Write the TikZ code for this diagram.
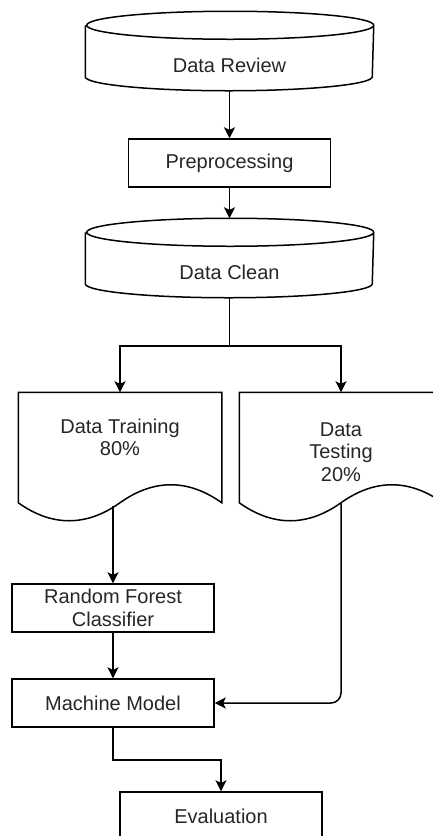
\documentclass[tikz,border=0pt]{standalone}
\usepackage{fontspec}
\setmainfont{Liberation Sans}
\usetikzlibrary{arrows.meta,calc}
\tikzset{flow box/.style={draw, minimum width=101pt, minimum height=24pt, inner sep=0pt, align=center}}
\tikzset{drum body/.style={minimum width=143.5pt, minimum height=25pt, inner sep=0pt, align=center}}
\tikzset{doc body/.style={minimum width=101pt, minimum height=59pt, inner sep=0pt, align=center}}
\newcommand{\drumOutline}[1]{%
  \draw ([yshift=7pt]#1.north west) -- ([yshift=7pt]#1.south west)
    arc[start angle=180, end angle=360, x radius=71.75pt, y radius=7pt]
    -- ([yshift=7pt]#1.north east)
    arc[start angle=0, end angle=360, x radius=71.75pt, y radius=7pt];}
\newcommand{\docOutline}[1]{%
  \draw (#1.north west) -- (#1.north east) -- ([yshift=4.5pt]#1.south east)
    .. controls +(-33.7,24) and +(33.7,24) .. ([yshift=4.5pt]#1.south)
    .. controls +(-33.7,-24) and +(33.7,-24) .. ([yshift=4.5pt]#1.south west) -- cycle;}

\begin{document}
\begin{tikzpicture}[x=0.5pt, y=0.5pt, line width=0.75pt, >={Stealth[length=5.5pt, width=5.5pt, inset=1.3pt]},
                    font=\fontsize{10}{11.25}\selectfont, text=black!85]
  \clip (0,0) rectangle (433,-836);
  \node[drum body] at (229.5,-65) (review) {Data Review};
  \node[flow box] at (229.5,-163) (prep) {Preprocessing};
  \node[drum body] at (229.5,-272) (clean) {Data Clean};
  \node[doc body] at (120,-452) (train) {Data Training\\80\%\\\strut};
  \node[doc body] at (341,-452) (test) {Data\\Testing\\20\%};
  \node[flow box] at (113,-608) (rf) {Random Forest\\Classifier};
  \node[flow box] at (113,-703) (mm) {Machine Model};
  \node[flow box] at (221,-816) (eval) {Evaluation};
  \drumOutline{review}
  \drumOutline{clean}
  \docOutline{train}
  \docOutline{test}
  % connectors
  \draw[->] (review.south) -- (prep.north);
  \draw[->] (prep.south) -- ([yshift=14pt]clean.north);
  \coordinate (split) at (229.5,-346);
  \draw (clean.south) -- (split);
  \draw[->] (split) -| (train.north);
  \draw[->] (split) -| (test.north);
  \coordinate (trainwave) at ([yshift=3pt]train.south);
  \draw[->] (trainwave -| rf.north) -- (rf.north);
  \draw[->] (rf.south) -- (mm.north);
  \draw[->, rounded corners=5pt] ([yshift=4.5pt]test.south) |- (mm.east);
  \draw[->] (mm.south) -- ++(0,-32) -| (eval.north);
\end{tikzpicture}
\end{document}
